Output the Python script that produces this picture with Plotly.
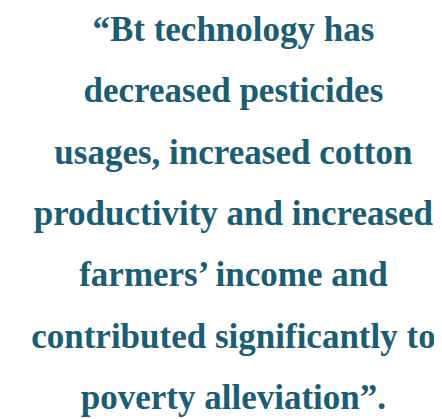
import plotly.graph_objects as go

quote_lines = [
    "\u201cBt technology has",
    "decreased pesticides",
    "usages, increased cotton",
    "productivity and increased",
    "farmers\u2019 income and",
    "contributed significantly to",
    "poverty alleviation\u201d.",
]
line_pos = list(range(len(quote_lines)))

text_color = '#1b5d72'

fig = go.Figure()
fig.add_trace(go.Scatter(
    x=[0] * len(quote_lines), y=line_pos,
    mode='text',
    text=["<b>{}</b>".format(t) for t in quote_lines],
    textposition='middle center',
    textfont=dict(family='Liberation Serif', size=35, color=text_color),
    hoverinfo='skip', showlegend=False))

fig.update_xaxes(visible=False, range=[-1.02, 0.98], fixedrange=True)
fig.update_yaxes(visible=False, range=[6.43, -0.39], fixedrange=True)
fig.update_layout(width=442, height=419,
                  margin=dict(l=0, r=0, t=0, b=0),
                  paper_bgcolor='white', plot_bgcolor='white')

fig.write_html("out.html")
